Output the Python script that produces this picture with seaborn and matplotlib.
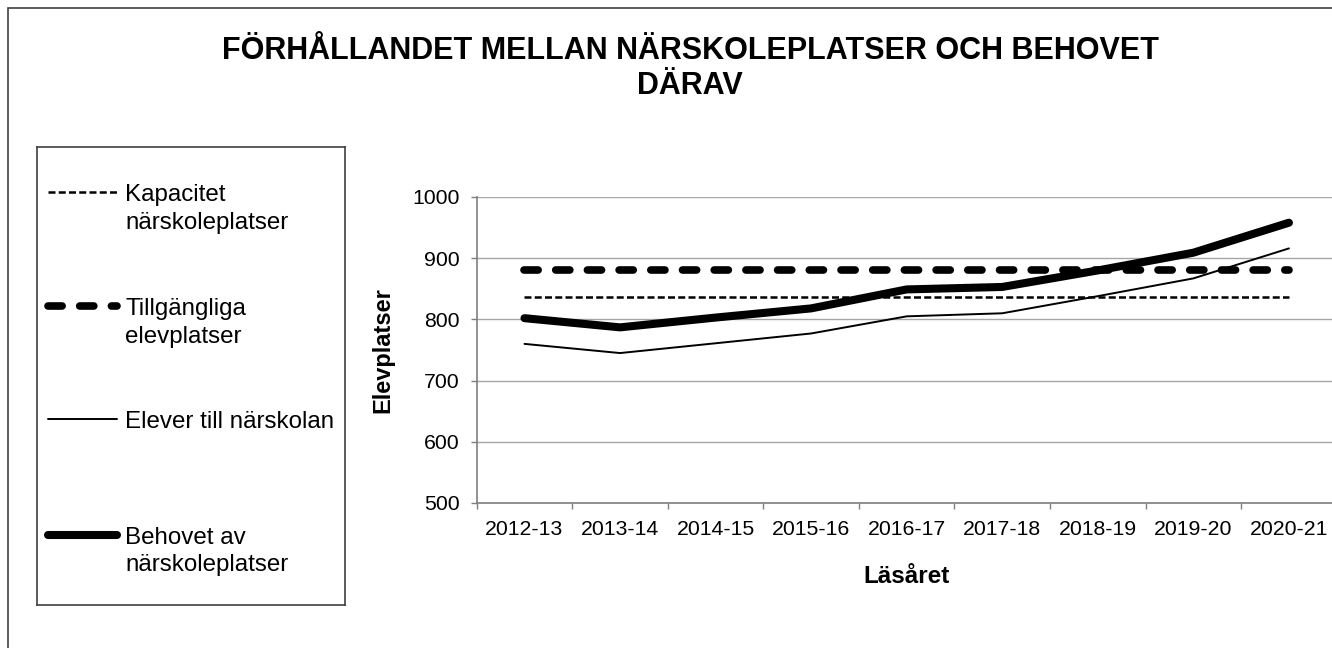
import pandas as pd
import matplotlib.pyplot as plt
import seaborn as sns
from matplotlib.patches import Rectangle

# =============================
# DATA
# =============================
lasar = ["2012-13", "2013-14", "2014-15", "2015-16", "2016-17",
         "2017-18", "2018-19", "2019-20", "2020-21"]
kapacitet = [837, 837, 837, 837, 837, 837, 837, 837, 837]
tillgangliga = [880, 880, 880, 880, 880, 880, 880, 880, 880]
elever = [760, 745, 761, 777, 805, 810, 838, 867, 916]
behovet = [802, 787, 803, 818, 849, 853, 880, 909, 958]

df = pd.DataFrame({"lasar": lasar, "kapacitet": kapacitet,
                   "tillgangliga": tillgangliga, "elever": elever,
                   "behovet": behovet})

# =============================
# STYLE
# =============================
sns.set_theme(style="white")
plt.rcParams["font.family"] = ["Liberation Sans", "DejaVu Sans"]
plt.rcParams["text.color"] = "black"
plt.rcParams["axes.labelcolor"] = "black"

W, H = 1332, 648
fig = plt.figure(figsize=(W / 100, H / 100), dpi=100)

# yttre ram (klippt till höger och nedtill som i originalet)
fig.patches.append(Rectangle((8 / W, -0.1), 1.2, 1 - 8 / H + 0.1,
                             transform=fig.transFigure, fill=False,
                             edgecolor="#404040", linewidth=1.2))

ax = fig.add_axes([476.7 / W, 1 - 503 / H, 860 / W, 306 / H])

stil = {
    "kapacitet": dict(color="black", linewidth=1.8, linestyle=(0, (2.8, 1.3)),
                      dash_capstyle="butt"),
    "tillgangliga": dict(color="black", linewidth=5.5, linestyle=(0, (1.85, 2.3)),
                         dash_capstyle="round"),
    "elever": dict(color="black", linewidth=1.4, linestyle="-"),
    "behovet": dict(color="black", linewidth=5.8, linestyle="-",
                    solid_capstyle="round", solid_joinstyle="round"),
}

for kol in ["kapacitet", "tillgangliga", "elever", "behovet"]:
    sns.lineplot(data=df, x="lasar", y=kol, ax=ax, sort=False,
                 errorbar=None, legend=False, **stil[kol])

ax.set_xlim(-0.5, len(lasar) - 0.5)
ax.set_ylim(500, 1000)
ax.set_yticks(range(500, 1001, 100))
ax.set_xticks(range(len(lasar)))
ax.set_xticklabels(lasar)
ax.set_xticks([i - 0.5 for i in range(len(lasar) + 1)], minor=True)

ax.grid(axis="y", color="#a6a6a6", linewidth=1)
ax.set_axisbelow(True)
for s in ["top", "right"]:
    ax.spines[s].set_visible(False)
for s in ["left", "bottom"]:
    ax.spines[s].set_color("#7f7f7f")
    ax.spines[s].set_linewidth(1.2)

ax.tick_params(axis="x", which="major", length=0, pad=12, labelsize=15.3,
               labelcolor="black")
ax.tick_params(axis="x", which="minor", length=4.5, width=1, color="#7f7f7f",
               direction="out", bottom=True)
ax.tick_params(axis="y", which="major", length=4.5, width=1, color="#7f7f7f",
               direction="out", left=True, pad=8, labelsize=15.3,
               labelcolor="black")

ax.set_xlabel("Läsåret", fontsize=17.5, fontweight="bold", labelpad=19)
ax.set_ylabel("Elevplatser", fontsize=17, fontweight="bold", labelpad=13)

# =============================
# TITEL
# =============================
fig.text(690 / W, 1 - 51 / H, "FÖRHÅLLANDET MELLAN NÄRSKOLEPLATSER OCH BEHOVET",
         ha="center", va="center", fontsize=22, fontweight="bold")
fig.text(690 / W, 1 - 86 / H, "DÄRAV",
         ha="center", va="center", fontsize=22, fontweight="bold")

# =============================
# LEGEND (ruta till vänster)
# =============================
lax = fig.add_axes([37 / W, 1 - 605 / H, 308 / W, 458 / H])
lax.set_xlim(0, 308)
lax.set_ylim(458, 0)
lax.set_xticks([])
lax.set_yticks([])
for s in lax.spines.values():
    s.set_color("#404040")
    s.set_linewidth(1.2)

rad_y = [45, 159, 272, 388]
etiketter = [["Kapacitet", "närskoleplatser"],
             ["Tillgängliga", "elevplatser"],
             ["Elever till närskolan"],
             ["Behovet av", "närskoleplatser"]]
for kol, y, rader in zip(["kapacitet", "tillgangliga", "elever", "behovet"],
                         rad_y, etiketter):
    lax.plot([11, 80], [y, y], **stil[kol])
    for j, rad in enumerate(rader):
        lax.text(88, y + 8.5 + 28 * j, rad, fontsize=17.4, va="baseline",
                 ha="left")

plt.savefig("out.png", dpi=100)
plt.close()
